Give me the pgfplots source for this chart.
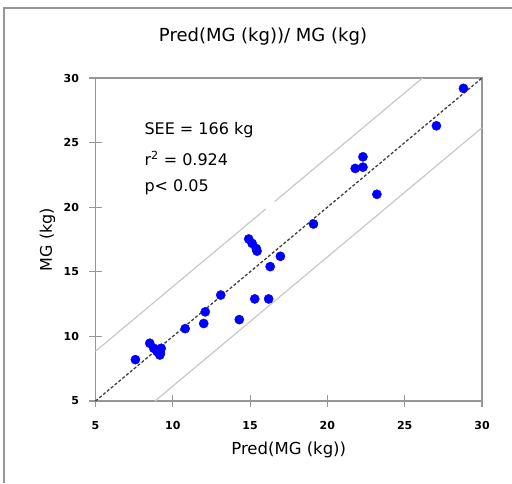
\documentclass[border=0pt]{standalone}
\usepackage{pgfplots}
\pgfplotsset{compat=1.18}
\usepackage{fontspec}
\setmainfont{DejaVu Sans}
\definecolor{axgray}{RGB}{150,150,150}
\definecolor{linegray}{RGB}{200,200,200}
\begin{document}
\begin{tikzpicture}[x=1pt,y=1pt]
\useasboundingbox (0,0) rectangle (512,483);
\draw[axgray, line width=1.3pt] (4,0) -- (4,475) -- (512,475);
\node[font=\fontsize{18}{20}\selectfont] at (263,446) {Pred(MG (kg))/ MG (kg)};
\begin{axis}[
  at={(95.5pt,82pt)}, anchor=south west,
  scale only axis, width=386.5pt, height=323pt,
  xmin=5, xmax=30, ymin=5, ymax=30,
  xtick={5,10,15,20,25,30}, ytick={5,10,15,20,25,30},
  axis line style={axgray, line width=1.3pt},
  tick style={axgray, line width=1.1pt},
  major tick length=12pt,
  tick align=center,
  xtick pos=bottom, ytick pos=left,
  tick label style={font=\fontsize{11}{13}\selectfont\bfseries},
  /pgf/number format/assume math mode=true,
  xticklabel style={yshift=-11pt},
  yticklabel style={xshift=-7pt},
  xlabel={Pred(MG (kg))},
  ylabel={MG (kg)},
  xlabel style={font=\fontsize{16.5}{18}\selectfont, at={(axis description cs:0.5,0)}, anchor=center, yshift=-49pt},
  ylabel style={font=\fontsize{16}{18}\selectfont, at={(axis description cs:0,0.5)}, anchor=center, rotate=0, yshift=48pt},
  clip=false,
]
\addplot[linegray, line width=1.2pt] coordinates {(5,8.85) (16.0,19.85)};
\addplot[linegray, line width=1.2pt] coordinates {(16.6,20.45) (26.15,30)};
\addplot[linegray, line width=1.2pt] coordinates {(8.85,5) (30,26.15)};
\addplot[black!75, line width=1.3pt, dash pattern=on 3pt off 2pt] coordinates {(5,5) (30,30)};
\addplot[only marks, mark=*, mark size=4.6pt, mark options={draw=blue, fill=blue}] coordinates {
(7.58,8.2) (8.51,9.47) (8.77,9.08) (8.99,8.82) (9.25,9.08) (9.2,8.69) (9.16,8.56)
(10.8,10.6) (12.0,11.0) (12.1,11.9) (13.1,13.2) (14.3,11.3)
(14.91,17.54) (15.13,17.2) (15.4,16.8) (15.45,16.6)
(15.3,12.9) (16.2,12.9) (16.3,15.4) (16.96,16.2)
(19.1,18.7) (21.8,23.0) (22.3,23.1) (22.3,23.9) (23.2,21.0)
(27.05,26.3) (28.8,29.2)
};
\end{axis}
\node[anchor=base west, font=\fontsize{16}{18}\selectfont] at (141,348) {SEE = 166 kg};
\node[anchor=base west, font=\fontsize{16}{18}\selectfont] at (141,317) {r\textsuperscript{2} = 0.924};
\node[anchor=base west, font=\fontsize{16}{18}\selectfont] at (141,291) {p< 0.05};
\end{tikzpicture}
\end{document}
